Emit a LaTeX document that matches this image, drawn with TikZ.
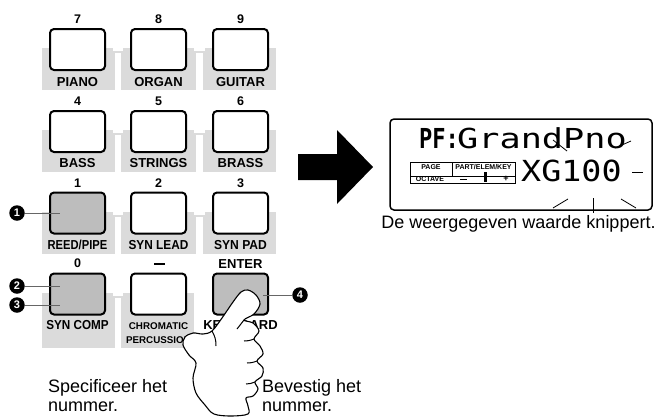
\documentclass[tikz,border=0pt]{standalone}
\usepackage{fontspec}
\setmainfont{Liberation Sans}
\newfontfamily\lcdfont{DejaVu Sans Mono}
\usetikzlibrary{calc}

\definecolor{bandgray}{gray}{0.86}
\definecolor{keygray}{gray}{0.74}
\definecolor{leadgray}{gray}{0.40}

\tikzset{
  key/.style={draw=black, line width=2pt, rounded corners=4pt, fill=white,
    minimum width=55pt, minimum height=41pt, inner sep=0pt},
  graykey/.style={key, fill=keygray},
  keynum/.style={anchor=base, inner sep=0pt, font=\fontsize{12.5}{14}\selectfont\bfseries},
  keyname/.style={anchor=base, inner sep=0pt, font=\fontsize{13}{15}\selectfont\bfseries},
  callout/.style={circle, fill=black, text=white, inner sep=0pt, minimum size=15.5pt,
    font=\fontsize{11}{12}\selectfont\bfseries},
  leader/.style={draw=leadgray, line width=0.7pt},
  caption/.style={inner sep=0pt, align=left, font=\fontsize{18}{19}\selectfont},
  lcdsmall/.style={inner sep=0pt, font=\fontsize{7}{7}\selectfont\bfseries},
  ray/.style={line width=0.8pt},
}

\begin{document}
\begin{tikzpicture}[x=1pt,y=-1pt]
\useasboundingbox (0,0) rectangle (659,416);

% label bands behind the key rows
\foreach \t/\b in {48/90,130/172,212/254} {
  \fill[bandgray] (42,\t) rectangle (276,\b);
  \fill[white] (113,\t) rectangle (123,\t+3);
  \fill[white] (115,\t+5) rectangle (121,\b+0.5);
  \fill[white] (194,\t) rectangle (205,\t+3);
  \fill[white] (196,\t+5) rectangle (203,\b+0.5);
}
\fill[bandgray] (42,293) rectangle (194,348);
\fill[white] (113,293) rectangle (123,296);
\fill[white] (115,298) rectangle (121,348.5);

% keys
\node[key] (k7) at (77.5,49.5) {};
\node[key] (k8) at (158.5,49.5) {};
\node[key] (k9) at (240.5,49.5) {};
\node[key] (k4) at (77.5,131.5) {};
\node[key] (k5) at (158.5,131.5) {};
\node[key] (k6) at (240.5,131.5) {};
\node[graykey] (k1) at (77.5,213) {};
\node[key] (k2) at (158.5,213) {};
\node[key] (k3) at (240.5,213) {};
\node[graykey] (k0) at (77.5,294) {};
\node[key] (kminus) at (158.5,294) {};
\node[graykey] (kenter) at (240.5,294) {};

% key numbers
\node[keynum] (n7) at (77.5,23.5) {7};
\node[keynum] (n8) at (158.5,23.5) {8};
\node[keynum] (n9) at (240.5,23.5) {9};
\node[keynum] (n4) at (77.5,105) {4};
\node[keynum] (n5) at (158.5,105) {5};
\node[keynum] (n6) at (240.5,105) {6};
\node[keynum] (n1) at (77.5,187.5) {1};
\node[keynum] (n2) at (158.5,187.5) {2};
\node[keynum] (n3) at (240.5,187.5) {3};
\node[keynum] (n0) at (77.5,267.5) {0};
\node[fill=black, minimum width=11pt, minimum height=2.6pt, inner sep=0pt] (nminus) at (159.5,264) {};
\node[keyname] (nenter) at (240.5,268) {ENTER};

% key names
\node[keyname] (l7) at (77.5,86) {PIANO};
\node[keyname] (l8) at (158.5,86) {ORGAN};
\node[keyname] (l9) at (240.5,86) {GUITAR};
\node[keyname] (l4) at (77.5,167.5) {BASS};
\node[keyname] (l5) at (158.5,167.5) {STRINGS};
\node[keyname] (l6) at (240.5,167.5) {BRASS};
\node[keyname] (l1) at (77.5,249.5) {\scalebox{0.86}[1]{REED/PIPE}};
\node[keyname] (l2) at (158.5,249.5) {\scalebox{0.91}[1]{SYN LEAD}};
\node[keyname] (l3) at (240.5,249.5) {\scalebox{0.93}[1]{SYN PAD}};
\node[keyname] (l0) at (77.5,329.5) {\scalebox{0.9}[1]{SYN COMP}};
\node[anchor=base, inner sep=0pt, align=center, font=\fontsize{9.8}{14}\selectfont\bfseries]
  (lminus) at (158.5,343.5) {CHROMATIC\\PERCUSSION};
\node[keyname] (lenter) at (240.5,329.5) {KEYBOARD};

% callouts
\node[callout] (c1) at (17,213) {1};
\node[callout] (c2) at (17,286) {2};
\node[callout] (c3) at (17,305) {3};
\node[callout] (c4) at (300,295) {4};
\coordinate (p1) at (60,213);
\coordinate (p2) at (60,286);
\coordinate (p3) at (60,305);
\coordinate (p4) at (263,295);
\draw[leader] (c1) -- (p1);
\draw[leader] (c2) -- (p2);
\draw[leader] (c3) -- (p3);
\draw[leader] (c4) -- (p4);

% pressing hand
\draw[line width=1.1pt, fill=white, line join=round]
  plot[smooth cycle, tension=0.55] coordinates {
    (248,290) (256,295) (260,304) (254,314) (244,320)
    (253,323) (259,331) (254,339)
    (260,346) (263,354) (257,361)
    (263,368) (262,376) (255,382)
    (258,389) (253,396) (246,398)
    (248,406) (248,414) (231,416) (214,414)
    (205,405) (196,393) (193,378) (196,363)
    (189,355) (183,345) (185,337) (193,333) (203,334) (212,331)
    (222,318) (233,302) (241,292)};
\draw[line width=1pt] (244,320) -- (237,329);
\draw[line width=1pt] (254,339) to[bend left=10] (244,341);
\draw[line width=1pt] (257,361) to[bend left=10] (247,363);
\draw[line width=1pt] (255,382) to[bend left=10] (246,384);
\draw[line width=1pt] (212,331) to[bend left=15] (216,346);

% big arrow
\fill (298,154) -- (337,154) -- (337,130) -- (373,167) -- (337,204) -- (337,180) -- (298,180) -- cycle;

% display
\node[draw, line width=1.5pt, rounded corners=4pt, minimum width=262pt, minimum height=91pt,
  inner sep=0pt] (lcd) at (521,164.5) {};
\node[anchor=base west, inner sep=0pt] (pf) at (419,148)
  {\lcdfont\fontsize{27.5}{30}\selectfont\bfseries\scalebox{0.8}[1]{PF:}};
\node[anchor=base west, inner sep=0pt] (voice) at (457,148)
  {\lcdfont\fontsize{27.5}{30}\selectfont\scalebox{1.28}[1]{GrandPno}};
\node[anchor=base west, inner sep=0pt] (xg) at (521,181)
  {\lcdfont\fontsize{29}{30}\selectfont\scalebox{1.15}[1]{XG100}};

% small status panel
\draw[line width=0.9pt] (410,162) rectangle (515,183);
\draw[line width=0.9pt] (410,176) -- (515,176);
\draw[line width=0.9pt] (452,162) -- (452,176);
\node[lcdsmall] (page) at (431,167.5) {PAGE};
\node[lcdsmall] (part) at (483.5,167.5) {PART/ELEM/KEY};
\node[lcdsmall] (oct) at (430,179.5) {OCTAVE};
\draw[line width=1.6pt] (460,179.5) -- (467,179.5);
\fill (484,172) rectangle (487,182);
\node[lcdsmall, font=\fontsize{9}{9}\selectfont\bfseries] (plus) at (506,179) {+};

% flashing rays round the value
\draw[ray] (553,140) -- (567,151);
\draw[ray] (615,148) -- (631,141);
\draw[ray] (632,172) -- (643,172);
\draw[ray] (553,208) -- (568,199);
\draw[ray] (621,199) -- (636,208);

% captions
\node[caption, anchor=base] (cap) at (518.5,228) {De weergegeven waarde knippert.};
\coordinate (vtop) at (593,198);
\draw[line width=0.8pt] (vtop) -- (593,213);
\node[caption, anchor=base west] (spec) at (48,392) {Specificeer het};
\node[caption, anchor=base west] (spec2) at (48,411) {nummer.};
\node[caption, anchor=base west] (bev) at (262,392) {Bevestig het};
\node[caption, anchor=base west] (bev2) at (262,411) {nummer.};
\end{tikzpicture}
\end{document}
